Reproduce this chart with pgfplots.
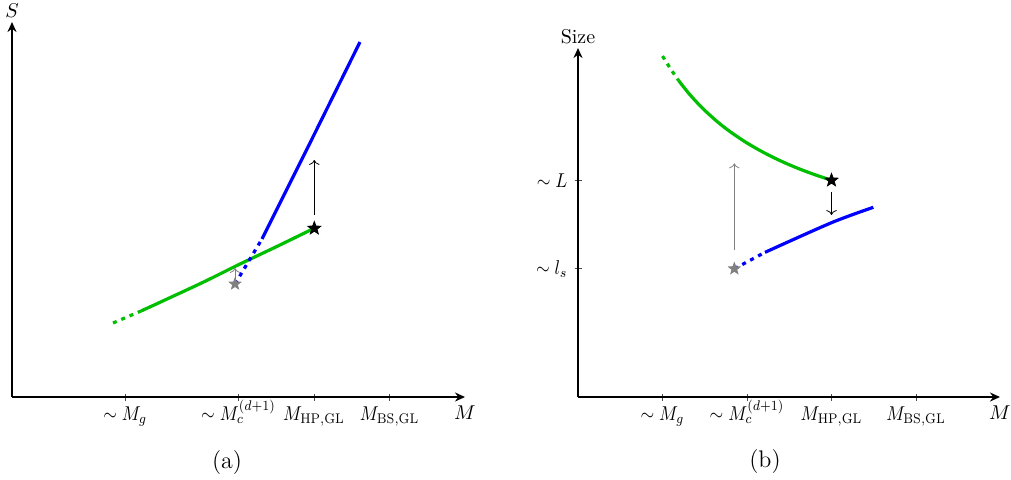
\documentclass[border=0pt]{standalone}
\usepackage{graphicx}
\usepackage{pgfplots}
\pgfplotsset{compat=1.18}
\usetikzlibrary{arrows.meta}
\definecolor{cgreen}{RGB}{0,190,0}
\definecolor{cblue}{RGB}{0,0,255}
\newcommand{\sx}[1]{\scalebox{0.88}[1]{#1}}
\pgfdeclareplotmark{fstar}{%
  \pgfpathmoveto{\pgfpointpolar{90}{\pgfplotmarksize}}%
  \pgfpathlineto{\pgfpointpolar{126}{0.42\pgfplotmarksize}}%
  \pgfpathlineto{\pgfpointpolar{162}{\pgfplotmarksize}}%
  \pgfpathlineto{\pgfpointpolar{198}{0.42\pgfplotmarksize}}%
  \pgfpathlineto{\pgfpointpolar{234}{\pgfplotmarksize}}%
  \pgfpathlineto{\pgfpointpolar{270}{0.42\pgfplotmarksize}}%
  \pgfpathlineto{\pgfpointpolar{306}{\pgfplotmarksize}}%
  \pgfpathlineto{\pgfpointpolar{342}{0.42\pgfplotmarksize}}%
  \pgfpathlineto{\pgfpointpolar{18}{\pgfplotmarksize}}%
  \pgfpathlineto{\pgfpointpolar{54}{0.42\pgfplotmarksize}}%
  \pgfpathclose\pgfusepathqfillstroke}
\pgfplotsset{myaxis/.style={
  axis lines=left,
  axis line style={line width=1.3pt, -{Stealth[length=5pt,width=4.5pt]}},
  xmin=0, ymin=0,
  tick align=center, major tick length=3.5pt,
  tick style={thin, black!70},
  ticklabel style={font=\normalsize},
  xticklabel style={text height=8.5pt, text depth=2.5pt, inner sep=1.5pt},
  clip=false,
  anchor=south west,
  every axis x label/.style={at={(rel axis cs:1,0)}, anchor=north, yshift=-1pt},
  every axis y label/.style={at={(rel axis cs:0,1)}, anchor=south, inner sep=1.5pt, yshift=0.5pt},
  label style={font=\normalsize},
},
curve/.style={line width=1.6pt},
dsh/.style={line width=1.6pt, dash pattern=on 2pt off 2.5pt},
}
\begin{document}
\begin{tikzpicture}
\useasboundingbox (-6pt,-41pt) rectangle (499.5pt,198.5pt);
% ---------------- (a)
\begin{axis}[myaxis, at={(0pt,0pt)},
  x=37.75pt, y=37.75pt, xmax=6, ymax=4.967,
  xtick={1.5,3,4,5},
  xticklabels={\sx{$\sim M_g$}, \sx{$\sim M_c^{(d+1)}$}, \sx{$M_{\mathrm{HP,GL}}$}, \sx{$M_{\mathrm{BS,GL}}$}},
  ytick=\empty,
  xlabel={$M$}, ylabel={$S$}]
\addplot[dsh, cgreen] coordinates {(1.338,0.980) (1.709,1.139)};
\addplot[curve, cgreen, smooth] coordinates {(1.709,1.139) (2.5,1.505) (3.0,1.752) (3.5,1.99) (4.0,2.234)};
\addplot[dsh, cblue] coordinates {(2.954,1.497) (3.311,2.093)};
\addplot[curve, cblue] coordinates {(3.311,2.093) (3.9,3.27) (4.609,4.702)};
\addplot[->, gray, thin] coordinates {(2.954,1.563) (2.954,1.709)};
\addplot[->, black, thin] coordinates {(4.004,2.41) (4.004,3.14)};
\addplot[only marks, mark=fstar, mark size=3.0pt, gray] coordinates {(2.954,1.497)};
\addplot[only marks, mark=fstar, mark size=3.4pt, black] coordinates {(4.004,2.234)};
\node[font=\large] at (axis cs:2.848,-0.861) {(a)};
\end{axis}
% ---------------- (b)
\begin{axis}[myaxis, at={(283pt,0pt)},
  x=42.25pt, y=42.25pt, xmax=4.994, ymax=4.13,
  xtick={1,2,3,4},
  xticklabels={\sx{$\sim M_g$}, \sx{$\sim M_c^{(d+1)}$}, \sx{$M_{\mathrm{HP,GL}}$}, \sx{$M_{\mathrm{BS,GL}}$}},
  ytick={1.518,2.565},
  yticklabels={\sx{$\sim l_s$}, \sx{$\sim L$}},
  xlabel={$M$}, ylabel={Size}]
\addplot[dsh, cgreen] coordinates {(1.0,4.035) (1.1,3.875) (1.19,3.746)};
\addplot[curve, cgreen, smooth] coordinates {(1.19,3.746) (1.3,3.606) (1.4,3.494) (1.5,3.392) (1.65,3.257) (1.8,3.140) (2.0,3.006) (2.2,2.892) (2.4,2.793) (2.6,2.707) (2.8,2.632) (3.0,2.565)};
\addplot[dsh, cblue] coordinates {(1.850,1.518) (2.213,1.712)};
\addplot[curve, cblue, smooth] coordinates {(2.213,1.712) (3.0,2.063) (3.495,2.245)};
\addplot[->, gray, thin] coordinates {(1.850,1.74) (1.850,2.765)};
\addplot[->, black, thin] coordinates {(3.0,2.426) (3.0,2.154)};
\addplot[only marks, mark=fstar, mark size=3.0pt, gray] coordinates {(1.850,1.518)};
\addplot[only marks, mark=fstar, mark size=3.4pt, black] coordinates {(3.0,2.565)};
\node[font=\large] at (axis cs:2.213,-0.769) {(b)};
\end{axis}
\end{tikzpicture}
\end{document}
